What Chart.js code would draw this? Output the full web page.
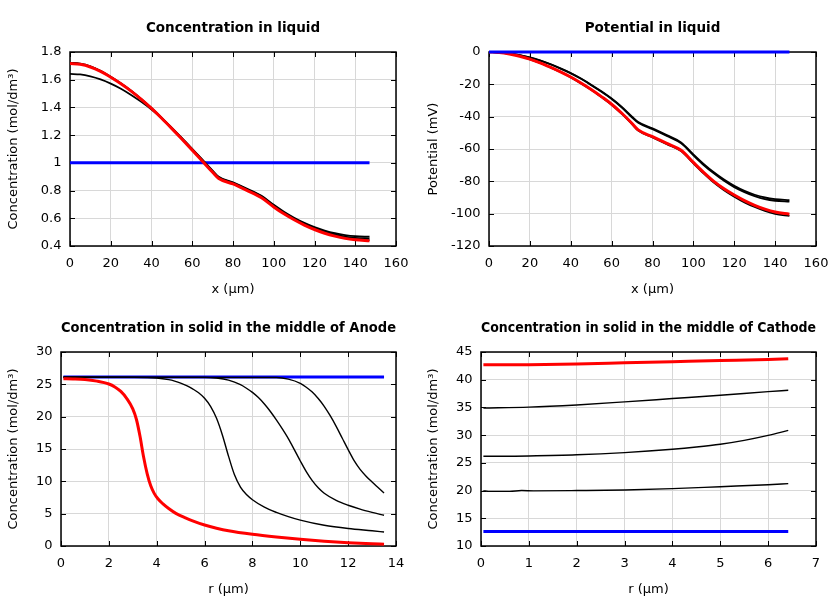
<!DOCTYPE html>
<html><head><meta charset="utf-8">
<script src="https://cdn.jsdelivr.net/npm/chart.js@4/dist/chart.umd.min.js"></script>
<style>
html,body{margin:0;padding:0;background:#fff;width:840px;height:600px;overflow:hidden;}
.p{position:absolute;width:420px;height:300px;}
</style>
</head><body>
<div class="p" style="left:0;top:0"><canvas id="c1" width="420" height="300"></canvas></div>
<div class="p" style="left:420px;top:0"><canvas id="c2" width="420" height="300"></canvas></div>
<div class="p" style="left:0;top:300px"><canvas id="c3" width="420" height="300"></canvas></div>
<div class="p" style="left:420px;top:300px"><canvas id="c4" width="420" height="300"></canvas></div>
<script>
// ---------- Data ----------
const titles = ["Concentration in liquid", "Potential in liquid",
  "Concentration in solid in the middle of Anode", "Concentration in solid in the middle of Cathode"];
const xLabels = ["x (µm)", "x (µm)", "r (µm)", "r (µm)"];
const yLabels = ["Concentration (mol/dm³)", "Potential (mV)", "Concentration (mol/dm³)", "Concentration (mol/dm³)"];

// Liquid (x in µm)
const liqX = [0, 5, 10, 15, 20, 25, 30, 35, 40, 45, 50, 55, 60, 65, 70, 73, 80, 87, 94, 100, 105, 110, 115, 120, 125, 130, 135, 140, 147];
const liqConcBlue = [1, 1, 1, 1, 1, 1, 1, 1, 1, 1, 1, 1, 1, 1, 1, 1, 1, 1, 1, 1, 1, 1, 1, 1, 1, 1, 1, 1, 1];
const liqConcA = [1.642, 1.638, 1.624, 1.602, 1.572, 1.535, 1.490, 1.440, 1.385, 1.323, 1.252, 1.178, 1.101, 1.023, 0.944, 0.900, 0.860, 0.813, 0.762, 0.697, 0.647, 0.604, 0.567, 0.536, 0.511, 0.492, 0.479, 0.471, 0.467];
const liqConcB = [1.722, 1.716, 1.697, 1.664, 1.621, 1.573, 1.520, 1.460, 1.395, 1.325, 1.250, 1.174, 1.097, 1.018, 0.939, 0.895, 0.856, 0.808, 0.757, 0.692, 0.642, 0.599, 0.562, 0.531, 0.505, 0.484, 0.468, 0.459, 0.455];
const liqConcC = [1.719, 1.713, 1.694, 1.661, 1.619, 1.572, 1.519, 1.459, 1.394, 1.323, 1.248, 1.171, 1.093, 1.014, 0.934, 0.889, 0.850, 0.802, 0.750, 0.685, 0.635, 0.592, 0.554, 0.522, 0.496, 0.475, 0.459, 0.449, 0.443];
const liqConcRed = [1.717, 1.711, 1.692, 1.660, 1.618, 1.571, 1.518, 1.458, 1.393, 1.322, 1.247, 1.170, 1.092, 1.012, 0.932, 0.887, 0.848, 0.800, 0.748, 0.682, 0.632, 0.589, 0.551, 0.519, 0.492, 0.471, 0.455, 0.445, 0.437];

const liqPotBlue = [0, 0, 0, 0, 0, 0, 0, 0, 0, 0, 0, 0, 0, 0, 0, 0, 0, 0, 0, 0, 0, 0, 0, 0, 0, 0, 0, 0, 0];
const liqPotA = [0, -0.2, -0.8, -1.9, -3.3, -5.2, -7.5, -10.1, -13.0, -16.4, -20.2, -24.3, -28.8, -34.0, -40.0, -43.3, -47.2, -51.4, -55.9, -63.3, -69.2, -74.4, -78.9, -82.8, -85.9, -88.3, -90.0, -91.0, -91.6];
const liqPotB = [0, -0.2, -0.8, -1.9, -3.4, -5.3, -7.6, -10.3, -13.2, -16.6, -20.5, -24.6, -29.1, -34.4, -40.5, -43.8, -47.7, -51.9, -56.5, -63.9, -69.9, -75.1, -79.7, -83.6, -86.7, -89.2, -91.0, -92.0, -92.6];
const liqPotC = [0, -0.3, -1.2, -2.6, -4.5, -6.8, -9.5, -12.4, -15.7, -19.4, -23.4, -27.9, -32.6, -38.3, -44.6, -48.6, -52.8, -57.0, -61.3, -68.9, -75.1, -80.8, -85.5, -89.5, -93.0, -95.9, -98.3, -100.1, -101.4];
const liqPotRed = [0, -0.3, -1.2, -2.6, -4.4, -6.7, -9.4, -12.3, -15.5, -19.2, -23.2, -27.6, -32.3, -37.9, -44.2, -48.2, -52.4, -56.5, -60.8, -68.3, -74.4, -80.0, -84.6, -88.5, -91.9, -94.8, -97.2, -99.0, -100.3];

// Anode solid (r in µm)
const anBlueR = [0.1, 13.5];
const anBlueC = [26.15, 26.15];
const anRedR = [0.1, 0.5, 1, 1.5, 2, 2.25, 2.5, 2.75, 3, 3.15, 3.3, 3.45, 3.6, 3.75, 3.9, 4.05, 4.25, 4.5, 4.8, 5.2, 5.5, 6, 6.5, 7, 8, 9, 10, 11, 12, 13, 13.5];
const anRedC = [25.85, 25.83, 25.75, 25.5, 25.05, 24.6, 23.9, 22.8, 21.2, 19.6, 17.0, 13.8, 11.2, 9.3, 8.1, 7.3, 6.55, 5.8, 5.05, 4.35, 3.9, 3.25, 2.75, 2.35, 1.8, 1.38, 1.03, 0.75, 0.52, 0.35, 0.27];
const an1R = [0.1, 3, 4, 4.5, 4.75, 5, 5.25, 5.5, 5.75, 6, 6.25, 6.5, 6.75, 7, 7.25, 7.5, 7.75, 8, 8.5, 9, 9.5, 10, 11, 12, 13, 13.5];
const an1C = [26.1, 26.08, 25.97, 25.72, 25.5, 25.2, 24.8, 24.3, 23.7, 22.85, 21.6, 19.75, 17.1, 13.9, 11.0, 9.1, 7.95, 7.15, 6.0, 5.2, 4.55, 4.0, 3.2, 2.7, 2.35, 2.17];
const an2R = [0.1, 6, 6.5, 7, 7.5, 7.75, 8, 8.25, 8.5, 8.75, 9, 9.25, 9.5, 9.75, 10, 10.25, 10.5, 10.75, 11, 11.5, 12, 12.5, 13, 13.5];
const an2C = [26.1, 26.08, 25.97, 25.65, 24.95, 24.4, 23.75, 22.95, 21.95, 20.8, 19.5, 18.1, 16.6, 14.9, 13.15, 11.5, 10.1, 9.0, 8.15, 7.05, 6.3, 5.7, 5.2, 4.75];
const an3R = [0.1, 9, 9.5, 10, 10.25, 10.5, 10.75, 11, 11.25, 11.5, 11.75, 12, 12.25, 12.5, 12.75, 13, 13.25, 13.5];
const an3C = [26.1, 26.05, 25.8, 25.15, 24.55, 23.8, 22.8, 21.6, 20.15, 18.5, 16.7, 14.9, 13.2, 11.85, 10.8, 9.9, 9.05, 8.2];

// Cathode solid (r in µm)
const caBlueR = [0.05, 6.42];
const caBlueC = [12.6, 12.6];
const caR = [0.05, 1, 2, 3, 4, 5, 6, 6.42];
const caRedC = [42.7, 42.72, 42.85, 43.05, 43.25, 43.45, 43.65, 43.8];
const ca1C = [34.9, 35.05, 35.45, 36.0, 36.6, 37.2, 37.85, 38.1];
const ca2R = [0.05, 0.5, 1, 2, 3, 4, 4.5, 5, 5.5, 6, 6.42];
const ca2C = [26.2, 26.2, 26.25, 26.45, 26.85, 27.45, 27.85, 28.35, 29.05, 29.95, 30.85];
const ca3R = [0.05, 0.15, 0.6, 0.85, 1.1, 2, 3, 4, 5, 6, 6.42];
const ca3C = [20.0, 19.85, 19.85, 20.0, 19.95, 20.0, 20.1, 20.35, 20.7, 21.05, 21.25];

// Axis ranges: [min, max, step]
const xRanges = [[0, 160, 20], [0, 160, 20], [0, 14, 2], [0, 7, 1]];
const yRanges = [[0.4, 1.8, 0.2], [-120, 0, 20], [0, 30, 5], [10, 45, 5]];

// ---------- Rendering ----------
const FONT = "'DejaVu Sans', 'Liberation Sans', sans-serif";
const pts = (xs, ys) => xs.map((x, i) => ({x: x, y: ys[i]}));
const RED = '#ff0000', BLUE = '#0000ff', BLACK = '#000000';

function ds(xs, ys, color, width, order, noClip) {
  const d = {data: pts(xs, ys), borderColor: color, borderWidth: width, order: order,
          pointRadius: 0, fill: false, cubicInterpolationMode: 'monotone'};
  if (noClip) d.clip = false;
  return d;
}

const framePlugin = {
  id: 'frame',
  beforeDatasetsDraw(chart) {
    const {ctx, chartArea: a, scales: {x, y}} = chart;
    ctx.save();
    ctx.strokeStyle = '#000';
    ctx.lineWidth = 1;
    ctx.beginPath();
    x.ticks.forEach(t => {
      const px = Math.round(x.getPixelForValue(t.value)) + 0.5;
      ctx.moveTo(px, a.bottom); ctx.lineTo(px, a.bottom - 5);
      ctx.moveTo(px, a.top); ctx.lineTo(px, a.top + 5);
    });
    y.ticks.forEach(t => {
      const py = Math.round(y.getPixelForValue(t.value)) + 0.5;
      ctx.moveTo(a.left, py); ctx.lineTo(a.left + 5, py);
      ctx.moveTo(a.right, py); ctx.lineTo(a.right - 5, py);
    });
    ctx.stroke();
    ctx.lineWidth = 1.5;
    ctx.strokeRect(a.left, a.top, a.right - a.left, a.bottom - a.top);
    ctx.restore();
  }
};

const fmt = v => String(parseFloat(Number(v).toFixed(2)));

function makeChart(id, idx, datasets, area) {
  const [xmin, xmax, xstep] = xRanges[idx];
  const [ymin, ymax, ystep] = yRanges[idx];
  const tFont = 13.5, tTop = 20;
  return new Chart(document.getElementById(id), {
    type: 'line',
    data: {datasets: datasets},
    options: {
      responsive: false, animation: false, devicePixelRatio: 1,
      layout: {padding: {left: 0, right: 420 - area.R, top: 0, bottom: 0}},
      plugins: {
        legend: {display: false}, tooltip: {enabled: false},
        title: {display: true, text: titles[idx], fullSize: false, color: '#000',
                font: {family: FONT, size: tFont, weight: 'bold', lineHeight: 1.2},
                padding: {top: tTop, bottom: area.T - tTop - tFont * 1.2}}
      },
      scales: {
        x: {type: 'linear', min: xmin, max: xmax,
            ticks: {stepSize: xstep, color: '#000', padding: 10, font: {family: FONT, size: 13}, callback: fmt, maxRotation: 0, autoSkip: false},
            grid: {color: '#d8d8d8', lineWidth: 1, drawTicks: false},
            border: {display: false},
            title: {display: true, text: xLabels[idx], color: '#000', font: {family: FONT, size: 13}, padding: {top: 0, bottom: 2.5}},
            afterFit: s => { s.height = 300 - area.B; s.paddingLeft = 0; s.paddingRight = 0; }
        },
        y: {type: 'linear', min: ymin, max: ymax,
            ticks: {stepSize: ystep, color: '#000', padding: 8.5, font: {family: FONT, size: 13}, callback: fmt, autoSkip: false},
            grid: {color: '#d8d8d8', lineWidth: 1, drawTicks: false},
            border: {display: false},
            title: {display: true, text: yLabels[idx], color: '#000', font: {family: FONT, size: 13}, padding: {top: 6, bottom: 0}},
            afterFit: s => { s.width = area.L; s.paddingTop = 0; s.paddingBottom = 0; }
        }
      }
    },
    plugins: [framePlugin]
  });
}

makeChart('c1', 0, [
  ds(liqX, liqConcRed, RED, 3, 0),
  ds(liqX, liqConcC, BLACK, 1.8, 1),
  ds(liqX, liqConcB, BLACK, 1.8, 2),
  ds(liqX, liqConcA, BLACK, 1.8, 3),
  ds(liqX, liqConcBlue, BLUE, 3, 4)
], {L: 70, R: 396, T: 52, B: 246});

makeChart('c2', 1, [
  ds(liqX, liqPotBlue, BLUE, 3, 0, true),
  ds(liqX, liqPotRed, RED, 3, 1),
  ds(liqX, liqPotC, BLACK, 1.8, 2),
  ds(liqX, liqPotB, BLACK, 1.8, 3),
  ds(liqX, liqPotA, BLACK, 1.8, 4)
], {L: 69, R: 396, T: 52, B: 246});

makeChart('c3', 2, [
  ds(anRedR, anRedC, RED, 3, 0),
  ds(an1R, an1C, BLACK, 1.4, 1),
  ds(an2R, an2C, BLACK, 1.4, 2),
  ds(an3R, an3C, BLACK, 1.4, 3),
  ds(anBlueR, anBlueC, BLUE, 3, 4)
], {L: 61, R: 396, T: 52, B: 246});

makeChart('c4', 3, [
  ds(caR, caRedC, RED, 3, 0),
  ds(caR, ca1C, BLACK, 1.4, 1),
  ds(ca2R, ca2C, BLACK, 1.4, 2),
  ds(ca3R, ca3C, BLACK, 1.4, 3),
  ds(caBlueR, caBlueC, BLUE, 3, 4)
], {L: 61, R: 396, T: 52, B: 246});
</script>
</body></html>
